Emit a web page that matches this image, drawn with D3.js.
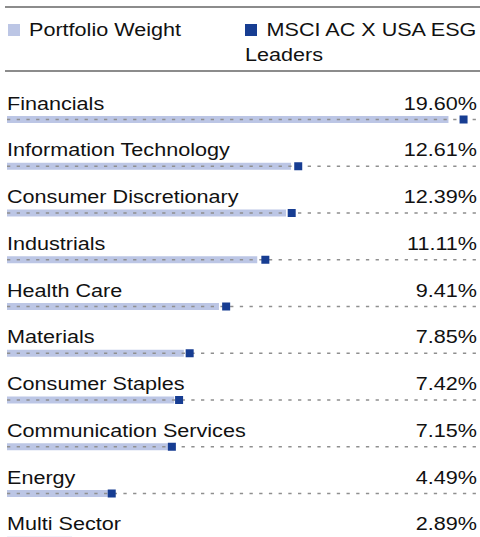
<!DOCTYPE html>
<html>
<head>
<meta charset="utf-8">
<script src="https://cdn.jsdelivr.net/npm/d3@7"></script>
<style>
  html, body { margin: 0; padding: 0; background: #fff; }
  svg { display: block; }
  text { font-family: "Liberation Sans", Arial, Helvetica, sans-serif; fill: #111; }
</style>
</head>
<body>
<svg id="chart" width="480" height="537"></svg>
<script>
const categories = ["Financials", "Information Technology", "Consumer Discretionary", "Industrials",
  "Health Care", "Materials", "Consumer Staples", "Communication Services", "Energy", "Multi Sector"];
const portfolio = [19.60, 12.61, 12.39, 11.11, 9.41, 7.85, 7.42, 7.15, 4.49, 2.89];
const benchmark = [20.27, 12.93, 12.64, 11.47, 9.73, 8.11, 7.64, 7.32, 4.65, null];
const valueLabels = ["19.60%", "12.61%", "12.39%", "11.11%", "9.41%", "7.85%", "7.42%", "7.15%", "4.49%", "2.89%"];
const seriesNames = ["Portfolio Weight", "MSCI AC X USA ESG", "Leaders"];

const W = 480, H = 537;
const lightC = "#bcc6e5", darkC = "#173d92", rule = "#8c8c8c", dashC = "#8f8f8f";
const fs = 18.7, sx = 1.155;

const svg = d3.select("#chart");
const x = d3.scaleLinear().domain([0, 21]).range([7, 480]);
const y = d3.scalePoint().domain(categories).range([119.5, 119.5 + 9 * 46.75]);

// rules
svg.append("line").attr("x1", 5).attr("x2", W).attr("y1", 7).attr("y2", 7)
  .attr("stroke", rule).attr("stroke-width", 2);
svg.append("line").attr("x1", 5).attr("x2", W).attr("y1", 71).attr("y2", 71)
  .attr("stroke", rule).attr("stroke-width", 2);

function txt(g, s, tx, ty, anchor) {
  return g.append("text").attr("transform", `translate(${tx},${ty}) scale(${sx},1)`)
    .attr("text-anchor", anchor || "start").attr("font-size", fs).text(s);
}

// legend
svg.append("rect").attr("x", 8).attr("y", 24).attr("width", 12).attr("height", 12).attr("fill", lightC);
txt(svg, seriesNames[0], 29, 35.7);
svg.append("rect").attr("x", 245).attr("y", 24).attr("width", 12).attr("height", 12).attr("fill", darkC);
txt(svg, seriesNames[1], 266.5, 35.7);
txt(svg, seriesNames[2], 245, 61);

// rows
const rows = svg.selectAll("g.row").data(categories).join("g").attr("class", "row");
rows.append("rect")
  .attr("x", x(0)).attr("y", d => y(d) - 3.5)
  .attr("width", (d, i) => x(portfolio[i]) - x(0)).attr("height", 7)
  .attr("fill", lightC);
rows.append("line")
  .attr("x1", x(0)).attr("x2", W).attr("y1", d => y(d)).attr("y2", d => y(d))
  .attr("stroke", dashC).attr("stroke-width", 1.3).attr("stroke-dasharray", "3.3,6.4");
rows.filter((d, i) => benchmark[i] != null).append("rect")
  .attr("x", d => x(benchmark[categories.indexOf(d)]) - 4).attr("y", d => y(d) - 4)
  .attr("width", 8).attr("height", 8).attr("fill", darkC);
rows.each(function(d, i) {
  const g = d3.select(this);
  txt(g, d, 7, y(d) - 9.8);
  txt(g, valueLabels[i], 477, y(d) - 9.8, "end");
});
</script>
</body>
</html>
